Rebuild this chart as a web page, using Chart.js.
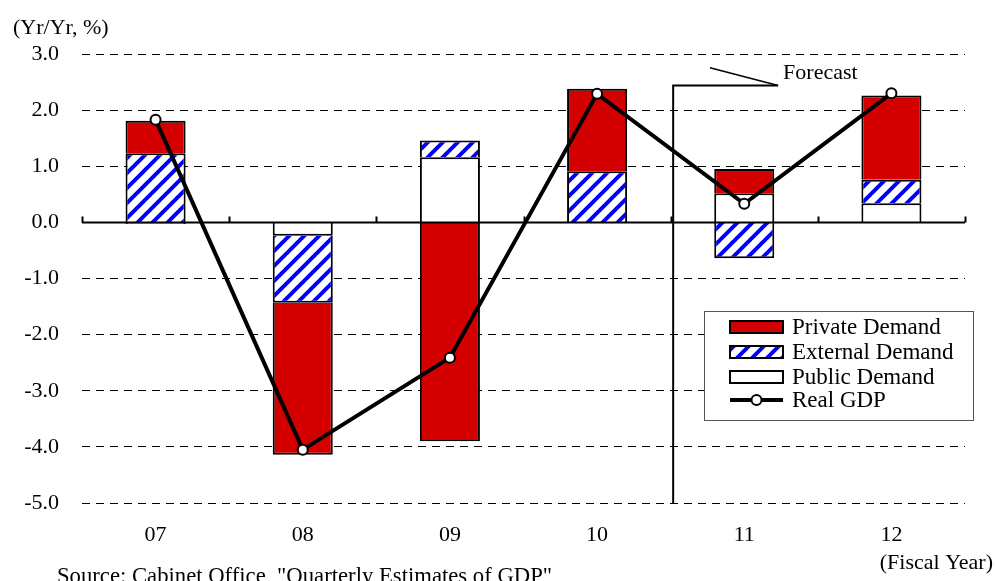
<!DOCTYPE html>
<html>
<head>
<meta charset="utf-8">
<script src="https://cdn.jsdelivr.net/npm/chart.js@4/dist/chart.umd.min.js"></script>
<style>
  html, body { margin: 0; padding: 0; background: #fff; }
  #wrap { width: 995px; height: 581px; position: relative; }
</style>
</head>
<body>
<div id="wrap"><canvas id="c" width="995" height="581"></canvas></div>
<script>
// Fiscal years and contributions to real GDP growth (Yr/Yr, %)
const years = ['07', '08', '09', '10', '11', '12'];
const privateDemand  = [0.58, -2.71, -3.90, 1.47, 0.43, 1.50];
const externalDemand = [1.23, -1.19, 0.30, 0.91, -0.64, 0.42];
const publicDemand   = [-0.03, -0.24, 1.16, 0.00, 0.52, 0.34];
const realGDP        = [1.83, -4.05, -2.41, 2.29, 0.33, 2.30];
const seriesNames = ['Private Demand', 'External Demand', 'Public Demand', 'Real GDP'];
const yTicks = [3, 2, 1, 0, -1, -2, -3, -4, -5];
const forecastFrom = 3.5; // boundary between FY10 and FY11

const FONT = "'Liberation Serif', 'Times New Roman', serif";
const RED = '#d40000';
const BLUE = '#0000ff';

const canvas = document.getElementById('c');
const ctx = canvas.getContext('2d');

function makeHatch() {
  const s = 15;
  const c = document.createElement('canvas');
  c.width = s; c.height = s;
  const g = c.getContext('2d');
  g.fillStyle = '#ffffff';
  g.fillRect(0, 0, s, s);
  g.strokeStyle = BLUE;
  g.lineWidth = 4;
  g.beginPath();
  for (const off of [-s, 0, s]) {
    g.moveTo(off - 1, s + 1);
    g.lineTo(off + s + 1, -1);
  }
  g.stroke();
  return ctx.createPattern(c, 'repeat');
}
const hatch = makeHatch();

Chart.defaults.font.family = FONT;
Chart.defaults.font.size = 22;
Chart.defaults.color = '#000';

// Zero line with category boundary ticks, forecast marker, legend box and labels
const decorations = {
  id: 'decorations',
  afterDatasetsDraw(chart) {
    const c = chart.ctx;
    const xs = chart.scales.x, ys = chart.scales.y;
    const area = chart.chartArea;
    c.save();

    // zero line
    const y0 = Math.round(ys.getPixelForValue(0)) + 0.5;
    c.strokeStyle = '#000';
    c.lineWidth = 2;
    c.beginPath();
    c.moveTo(area.left, y0);
    c.lineTo(area.right, y0);
    for (let i = 0; i <= years.length; i++) {
      const bx = Math.round(xs.getPixelForValue(i - 0.5)) + 0.5;
      c.moveTo(bx, y0);
      c.lineTo(bx, y0 - 6);
    }
    c.stroke();

    // forecast marker
    const fx = xs.getPixelForValue(forecastFrom) + 2.5;
    const fTop = ys.getPixelForValue(2.44);
    const hEnd = xs.getPixelForValue(4.23);
    c.lineWidth = 2;
    c.beginPath();
    c.moveTo(fx, area.bottom + 1);
    c.lineTo(fx, fTop);
    c.lineTo(hEnd, fTop);
    c.stroke();
    c.lineWidth = 1.5;
    c.beginPath();
    c.moveTo(xs.getPixelForValue(3.767), ys.getPixelForValue(2.756));
    c.lineTo(hEnd, fTop);
    c.stroke();
    c.font = '22px ' + FONT;
    c.fillStyle = '#000';
    c.textAlign = 'left';
    c.textBaseline = 'middle';
    c.fillText('Forecast', hEnd + 5, fTop - 12);

    // legend box
    const L = { x: 704, y: 311, w: 269, h: 109 };
    c.fillStyle = '#fff';
    c.fillRect(L.x, L.y, L.w, L.h);
    c.strokeStyle = '#555';
    c.lineWidth = 1;
    c.strokeRect(L.x + 0.5, L.y + 0.5, L.w, L.h);

    const sx = 730, sw = 53, sh = 12;
    const rows = [327, 352, 377, 400];
    const fills = [RED, hatch, '#ffffff'];
    c.lineWidth = 2;
    c.strokeStyle = '#000';
    for (let i = 0; i < 3; i++) {
      c.fillStyle = fills[i];
      c.fillRect(sx, rows[i] - sh / 2, sw, sh);
      c.strokeRect(sx, rows[i] - sh / 2, sw, sh);
    }
    c.lineWidth = 4;
    c.beginPath();
    c.moveTo(sx, rows[3]);
    c.lineTo(sx + sw, rows[3]);
    c.stroke();
    c.beginPath();
    c.arc(sx + sw / 2, rows[3], 5, 0, Math.PI * 2);
    c.fillStyle = '#fff';
    c.fill();
    c.lineWidth = 2;
    c.stroke();

    c.fillStyle = '#000';
    c.font = '23px ' + FONT;
    c.textBaseline = 'middle';
    for (let i = 0; i < 4; i++) {
      c.fillText(seriesNames[i], 792, rows[i] + 1);
    }

    // axis captions and source note
    c.font = '22px ' + FONT;
    c.textAlign = 'left';
    c.fillText('(Yr/Yr, %)', 13, 28);
    c.textAlign = 'right';
    c.fillText('(Fiscal Year)', 993, 563);
    c.font = '22.7px ' + FONT;
    c.textAlign = 'left';
    c.textBaseline = 'alphabetic';
    c.fillText('Source: Cabinet Office, "Quarterly Estimates of GDP"', 57, 583);
    c.restore();
  }
};

const barCommon = {
  type: 'bar',
  borderColor: '#000',
  borderWidth: 2,
  borderSkipped: 'start',
  barPercentage: 0.408,
  categoryPercentage: 1.0,
  stack: 'demand'
};

new Chart(ctx, {
  type: 'bar',
  data: {
    labels: years,
    datasets: [
      Object.assign({}, barCommon, { label: seriesNames[0], data: privateDemand, backgroundColor: RED, order: 3 }),
      Object.assign({}, barCommon, { label: seriesNames[1], data: externalDemand, backgroundColor: hatch, order: 2 }),
      Object.assign({}, barCommon, { label: seriesNames[2], data: publicDemand, backgroundColor: '#ffffff', order: 1 }),
      {
        type: 'line',
        label: seriesNames[3],
        data: realGDP,
        stack: 'gdp',
        order: 0,
        borderColor: '#000',
        borderWidth: 4,
        tension: 0,
        pointRadius: 5,
        pointBorderWidth: 2,
        pointBackgroundColor: '#fff',
        pointBorderColor: '#000'
      }
    ]
  },
  options: {
    responsive: false,
    animation: false,
    devicePixelRatio: 1,
    layout: { padding: { top: 54, right: 30, bottom: 0, left: 0 } },
    plugins: { legend: { display: false }, tooltip: { enabled: false } },
    scales: {
      x: {
        stacked: true,
        grid: { display: false, drawTicks: false },
        border: { display: false },
        ticks: { padding: 19, font: { size: 22 }, color: '#000' },
        afterFit(scale) { scale.height = 78; }
      },
      y: {
        stacked: true,
        min: -5,
        max: 3,
        afterBuildTicks(scale) { scale.ticks = yTicks.map(v => ({ value: v })); },
        grid: {
          drawTicks: false,
          lineWidth: 1,
          color: (ctx) => (ctx.tick && ctx.tick.value === 0) ? 'rgba(0,0,0,0)' : '#000'
        },
        border: { display: false, dash: [8, 6] },
        ticks: {
          padding: 23,
          font: { size: 22 },
          color: '#000',
          callback: (v) => Number(v).toFixed(1)
        },
        afterFit(scale) { scale.width = 82; }
      }
    }
  },
  plugins: [decorations]
});
</script>
</body>
</html>
